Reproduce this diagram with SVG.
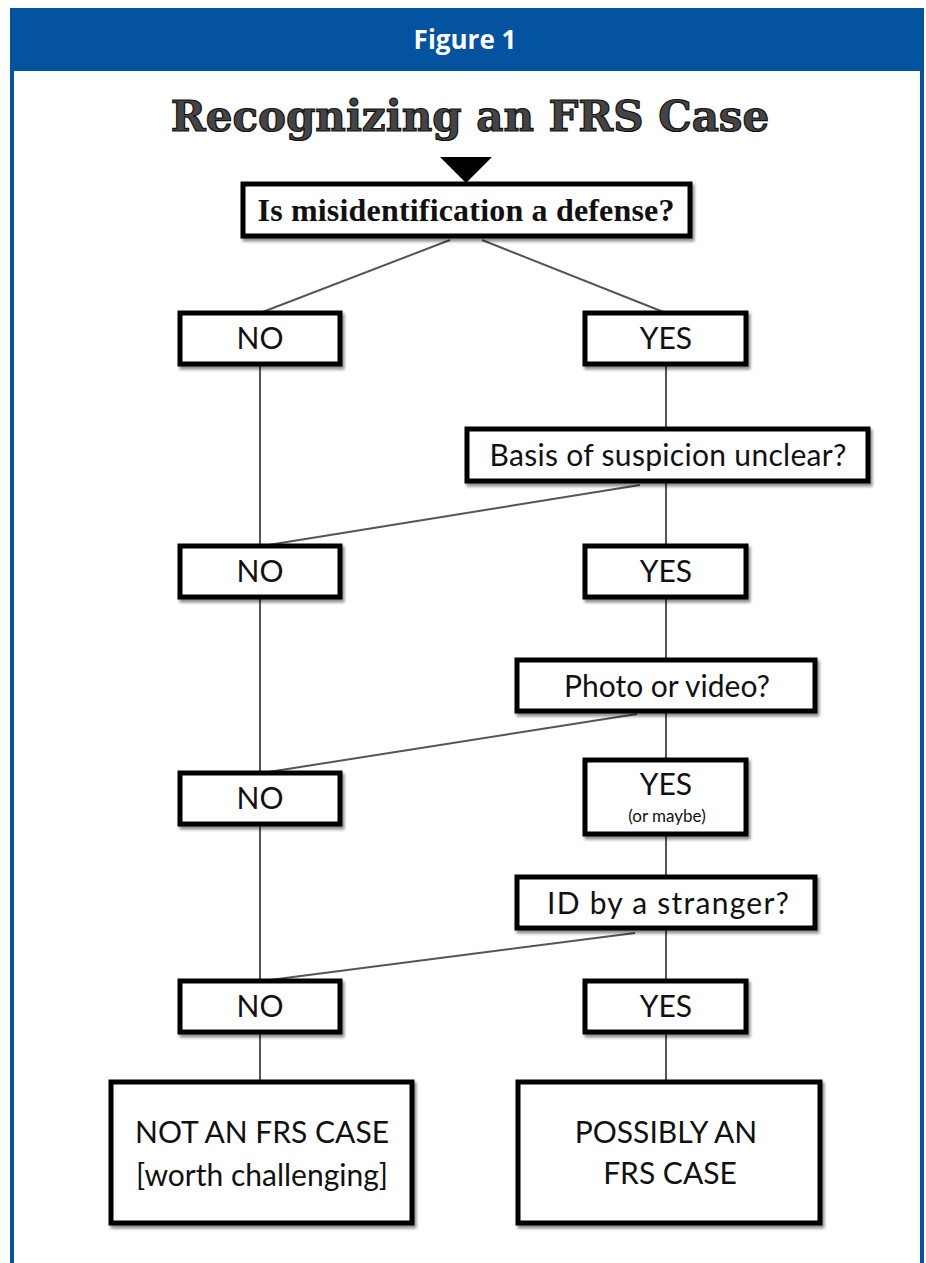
<svg xmlns="http://www.w3.org/2000/svg" width="926" height="1263" viewBox="0 0 926 1263">
<style>
.box{fill:#fff;stroke:#000;stroke-width:5;filter:url(#sh)}
.ln{stroke:#555;stroke-width:2;fill:none}
.t{font-family:Lato,"Liberation Sans",sans-serif;font-size:30px;fill:#111;text-anchor:middle}
.s{font-family:Lato,"Liberation Sans",sans-serif;font-size:17px;fill:#111;text-anchor:middle}
.q{font-family:"Liberation Serif",serif;font-weight:bold;font-size:32px;fill:#111;text-anchor:middle}
</style>
<defs>
<filter id="sh" x="-10%" y="-10%" width="125%" height="130%"><feDropShadow dx="2" dy="3" stdDeviation="1.5" flood-color="#000" flood-opacity="0.45"/></filter>
</defs>
<rect width="926" height="1263" fill="#fff"/>
<g id="frame">
<rect x="12" y="10" width="910" height="1260" fill="none" stroke="#0353a0" stroke-width="4"/>
<rect x="12" y="10" width="910" height="61" fill="#0353a0"/>
<text x="465" y="49" font-family="'Open Sans','Noto Sans',sans-serif" font-weight="bold" font-size="26" fill="#fff" text-anchor="middle">Figure 1</text>
</g>
<g id="title">
<text x="470" y="131" font-family="'DejaVu Serif',serif" font-weight="bold" font-size="42" fill="#444" stroke="#111" stroke-width="1.2" text-anchor="middle">Recognizing an FRS Case</text>
<polygon points="440,157 492,157 466,183" fill="#000"/>
</g>
<g id="connectors">
<line class="ln" x1="450" y1="240" x2="260" y2="313"/>
<line class="ln" x1="482" y1="240" x2="666" y2="313"/>
<line class="ln" x1="260" y1="364" x2="260" y2="1082"/>
<line class="ln" x1="666" y1="364" x2="666" y2="1082"/>
<line class="ln" x1="640" y1="485" x2="262" y2="546"/>
<line class="ln" x1="637" y1="714" x2="262" y2="773"/>
<line class="ln" x1="635" y1="933" x2="262" y2="981"/>
</g>
<g id="q1"><rect class="box" x="243" y="184" width="447" height="52"/><text class="q" x="466" y="221" textLength="417">Is misidentification a defense?</text></g>
<g id="no1"><rect class="box" x="180" y="313" width="160" height="51"/><text class="t" x="260" y="349">NO</text></g>
<g id="yes1"><rect class="box" x="585" y="313" width="161" height="51"/><text class="t" x="666" y="349">YES</text></g>
<g id="q2"><rect class="box" x="467" y="429" width="401" height="52"/><text class="t" x="668" y="466" textLength="357">Basis of suspicion unclear?</text></g>
<g id="no2"><rect class="box" x="180" y="546" width="160" height="51"/><text class="t" x="260" y="582">NO</text></g>
<g id="yes2"><rect class="box" x="585" y="546" width="161" height="51"/><text class="t" x="666" y="582">YES</text></g>
<g id="q3"><rect class="box" x="517" y="660" width="298" height="51"/><text class="t" x="667" y="697">Photo or video?</text></g>
<g id="no3"><rect class="box" x="180" y="773" width="160" height="51"/><text class="t" x="260" y="809">NO</text></g>
<g id="yes3"><rect class="box" x="585" y="760" width="161" height="74"/><text class="t" x="666" y="795">YES</text><text class="s" x="667" y="822">(or maybe)</text></g>
<g id="q4"><rect class="box" x="517" y="877" width="298" height="51"/><text class="t" x="668" y="914" textLength="242">ID by a stranger?</text></g>
<g id="no4"><rect class="box" x="180" y="981" width="160" height="51"/><text class="t" x="260" y="1017">NO</text></g>
<g id="yes4"><rect class="box" x="585" y="981" width="161" height="51"/><text class="t" x="666" y="1017">YES</text></g>
<g id="end1"><rect class="box" x="111" y="1082" width="301" height="141"/><text class="t" x="262" y="1143">NOT AN FRS CASE</text><text class="t" x="262" y="1186">[worth challenging]</text></g>
<g id="end2"><rect class="box" x="518" y="1082" width="302" height="141"/><text class="t" x="666" y="1143">POSSIBLY AN</text><text class="t" x="670" y="1184">FRS CASE</text></g>
</svg>
